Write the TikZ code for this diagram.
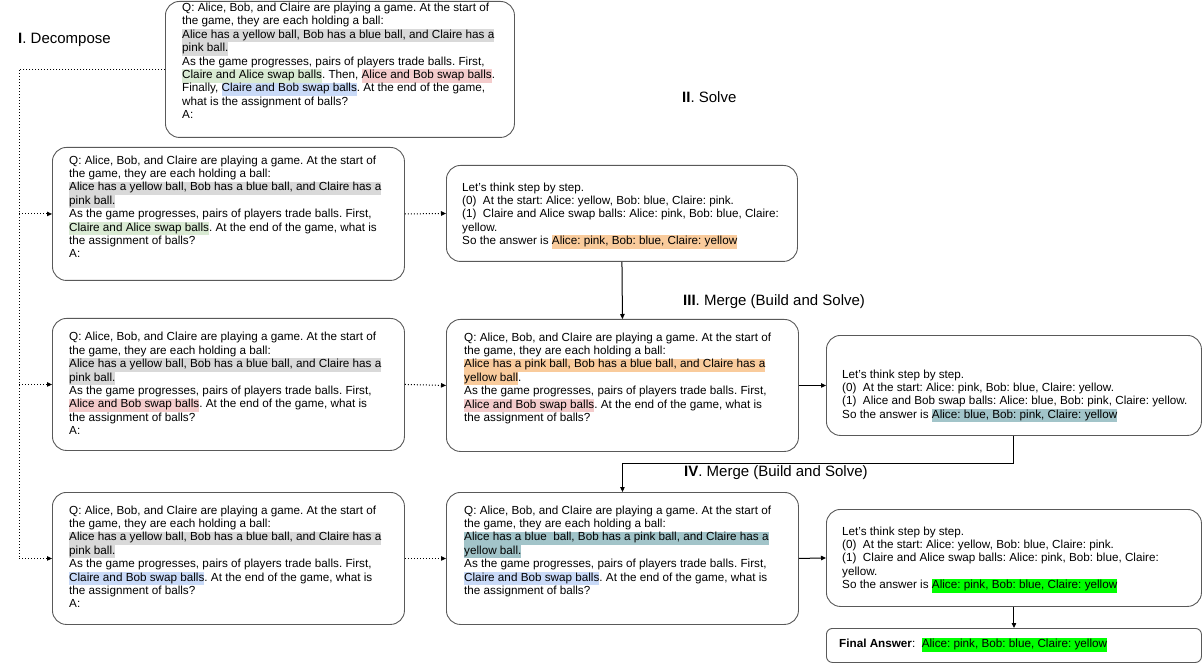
\documentclass[tikz,border=0pt]{standalone}
\usepackage{fontspec}
\setmainfont{Liberation Sans}
\usetikzlibrary{arrows.meta,calc}
\definecolor{hgray}{HTML}{D9D9D9}
\definecolor{hgreen}{HTML}{D9EAD3}
\definecolor{hred}{HTML}{F4CCCC}
\definecolor{hblue}{HTML}{C9DAF8}
\definecolor{horange}{HTML}{F9CB9C}
\definecolor{hteal}{HTML}{A2C4C9}
\definecolor{hlime}{HTML}{00FF00}
\definecolor{boxline}{HTML}{595959}
\newcommand\hl[2]{{\setlength{\fboxsep}{0pt}\colorbox{#1}{\strut #2}}}
\frenchspacing
\begin{document}
\begin{tikzpicture}[x=1pt,y=-1pt,
 box/.style={draw=boxline, line width=0.9pt, rounded corners=14pt, inner sep=0pt, anchor=north west},
 txt/.style={anchor=north west, inner sep=0pt, align=left, font=\fontsize{11.7}{13.4}\selectfont},
 lbl/.style={anchor=west, inner sep=0pt, font=\fontsize{15}{18}\selectfont},
 dotline/.style={line width=1pt, dash pattern=on 1pt off 2pt},
 tip/.style={-{Triangle[length=5pt,width=4.5pt]}},
 link/.style={line width=1pt, -{Triangle[length=5pt,width=4.5pt]}}]
\useasboundingbox (0,0) rectangle (1203,663);

% labels
\node[lbl] (l1) at (18,40) {\textbf{I}. Decompose};
\node[lbl] (l2) at (682,97) {\textbf{II}. Solve};
\node[lbl] (l3) at (683,302) {\textbf{III}. Merge (Build and Solve)};
\node[lbl] (l4) at (684,473) {\textbf{IV}. Merge (Build and Solve)};

% boxes
\node[box, minimum width=349pt, minimum height=136pt] (top) at (165,1) {};
\node[box, minimum width=352pt, minimum height=133pt] (L1) at (52,147) {};
\node[box, minimum width=352pt, minimum height=132pt] (L2) at (52,318) {};
\node[box, minimum width=352pt, minimum height=132pt] (L3) at (52,492) {};
\node[box, minimum width=351pt, minimum height=96pt] (S1) at (446,165) {};
\node[box, minimum width=352pt, minimum height=132pt] (M3) at (446,319) {};
\node[box, minimum width=375pt, minimum height=100pt] (S2) at (826,335) {};
\node[box, minimum width=352pt, minimum height=132pt] (M4) at (446,492) {};
\node[box, minimum width=375pt, minimum height=97pt] (S3) at (826,509) {};
\node[box, rounded corners=6pt, minimum width=375pt, minimum height=34pt] (F) at (826,628) {};

% texts
\node[txt] (ttop) at (182,2) {\strut Q: Alice, Bob, and Claire are playing a game. At the start of\\
the game, they are each holding a ball:\\
\hl{hgray}{Alice has a yellow ball, Bob has a blue ball, and Claire has a}\\
\hl{hgray}{pink ball.}\\
As the game progresses, pairs of players trade balls. First,\\
\hl{hgreen}{Claire and Alice swap balls}. Then, \hl{hred}{Alice and Bob swap balls}.\\
Finally, \hl{hblue}{Claire and Bob swap balls}. At the end of the game,\\
what is the assignment of balls?\\
A:};

\node[txt] (tL1) at (69,154.6) {\strut Q: Alice, Bob, and Claire are playing a game. At the start of\\
the game, they are each holding a ball:\\
\hl{hgray}{Alice has a yellow ball, Bob has a blue ball, and Claire has a}\\
\hl{hgray}{pink ball.}\\
As the game progresses, pairs of players trade balls. First,\\
\hl{hgreen}{Claire and Alice swap balls}. At the end of the game, what is\\
the assignment of balls?\\
A:};

\node[txt] (tL2) at (69,331.3) {\strut Q: Alice, Bob, and Claire are playing a game. At the start of\\
the game, they are each holding a ball:\\
\hl{hgray}{Alice has a yellow ball, Bob has a blue ball, and Claire has a}\\
\hl{hgray}{pink ball.}\\
As the game progresses, pairs of players trade balls. First,\\
\hl{hred}{Alice and Bob swap balls}. At the end of the game, what is\\
the assignment of balls?\\
A:};

\node[txt] (tL3) at (69,504.6) {\strut Q: Alice, Bob, and Claire are playing a game. At the start of\\
the game, they are each holding a ball:\\
\hl{hgray}{Alice has a yellow ball, Bob has a blue ball, and Claire has a}\\
\hl{hgray}{pink ball.}\\
As the game progresses, pairs of players trade balls. First,\\
\hl{hblue}{Claire and Bob swap balls}. At the end of the game, what is\\
the assignment of balls?\\
A:};

\node[txt] (tS1) at (462,181.6) {\strut Let’s think step by step.\\
(0)\ \ At the start: Alice: yellow, Bob: blue, Claire: pink.\\
(1)\ \ Claire and Alice swap balls: Alice: pink, Bob: blue, Claire:\\
yellow.\\
So the answer is \hl{horange}{Alice: pink, Bob: blue, Claire: yellow}};

\node[txt] (tM3) at (464,331.6) {\strut Q: Alice, Bob, and Claire are playing a game. At the start of\\
the game, they are each holding a ball:\\
\hl{horange}{Alice has a pink ball, Bob has a blue ball, and Claire has a}\\
\hl{horange}{yellow ball}.\\
As the game progresses, pairs of players trade balls. First,\\
\hl{hred}{Alice and Bob swap balls}. At the end of the game, what is\\
the assignment of balls?};

\node[txt] (tS2) at (842,368.6) {\strut Let’s think step by step.\\
(0)\ \ At the start: Alice: pink, Bob: blue, Claire: yellow.\\
(1)\ \ Alice and Bob swap balls: Alice: blue, Bob: pink, Claire: yellow.\\
So the answer is \hl{hteal}{Alice: blue, Bob: pink, Claire: yellow}};

\node[txt] (tM4) at (464,504.6) {\strut Q: Alice, Bob, and Claire are playing a game. At the start of\\
the game, they are each holding a ball:\\
\hl{hteal}{Alice has a blue\ \ ball, Bob has a pink ball, and Claire has a}\\
\hl{hteal}{yellow ball.}\\
As the game progresses, pairs of players trade balls. First,\\
\hl{hblue}{Claire and Bob swap balls}. At the end of the game, what is\\
the assignment of balls?};

\node[txt] (tS3) at (842,525.6) {\strut Let’s think step by step.\\
(0)\ \ At the start: Alice: yellow, Bob: blue, Claire: pink.\\
(1)\ \ Claire and Alice swap balls: Alice: pink, Bob: blue, Claire:\\
yellow.\\
So the answer is \hl{hlime}{Alice: pink, Bob: blue, Claire: yellow}};

\node[txt, anchor=west] (tF) at (839,645) {\textbf{Final Answer}:\ \ \hl{hlime}{Alice: pink, Bob: blue, Claire: yellow}};

% decompose connectors (dotted)
\coordinate (trunk) at (19,0);
\coordinate (c0) at (top.west -| trunk);
\coordinate (c1) at (L1.west -| trunk);
\coordinate (c2) at (L2.west -| trunk);
\coordinate (c3) at (L3.west -| trunk);
\draw[dotline] (top.west) -- (c0) -- (c3);
\draw[dotline, tip] (c1) -- (L1.west);
\draw[dotline, tip] (c2) -- (L2.west);
\draw[dotline, tip] (c3) -- (L3.west);
\draw[dotline, tip] (L1.east) -- (S1.west);
\draw[dotline, tip] (L2.east) -- (M3.west);
\draw[dotline, tip] (L3.east) -- (M4.west);

% solid connectors
\draw[link] (S1.south) -- (M3.north);
\draw[link] (M3.east) -- (S2.west);
\coordinate (k) at ($(S2.south)+(0,28)$);
\draw[link] (S2.south) -- (k) -| (M4.north);
\draw[link] (M4.east) -- (S3.west);
\draw[link] (S3.south) -- (F.north);
\end{tikzpicture}
\end{document}
